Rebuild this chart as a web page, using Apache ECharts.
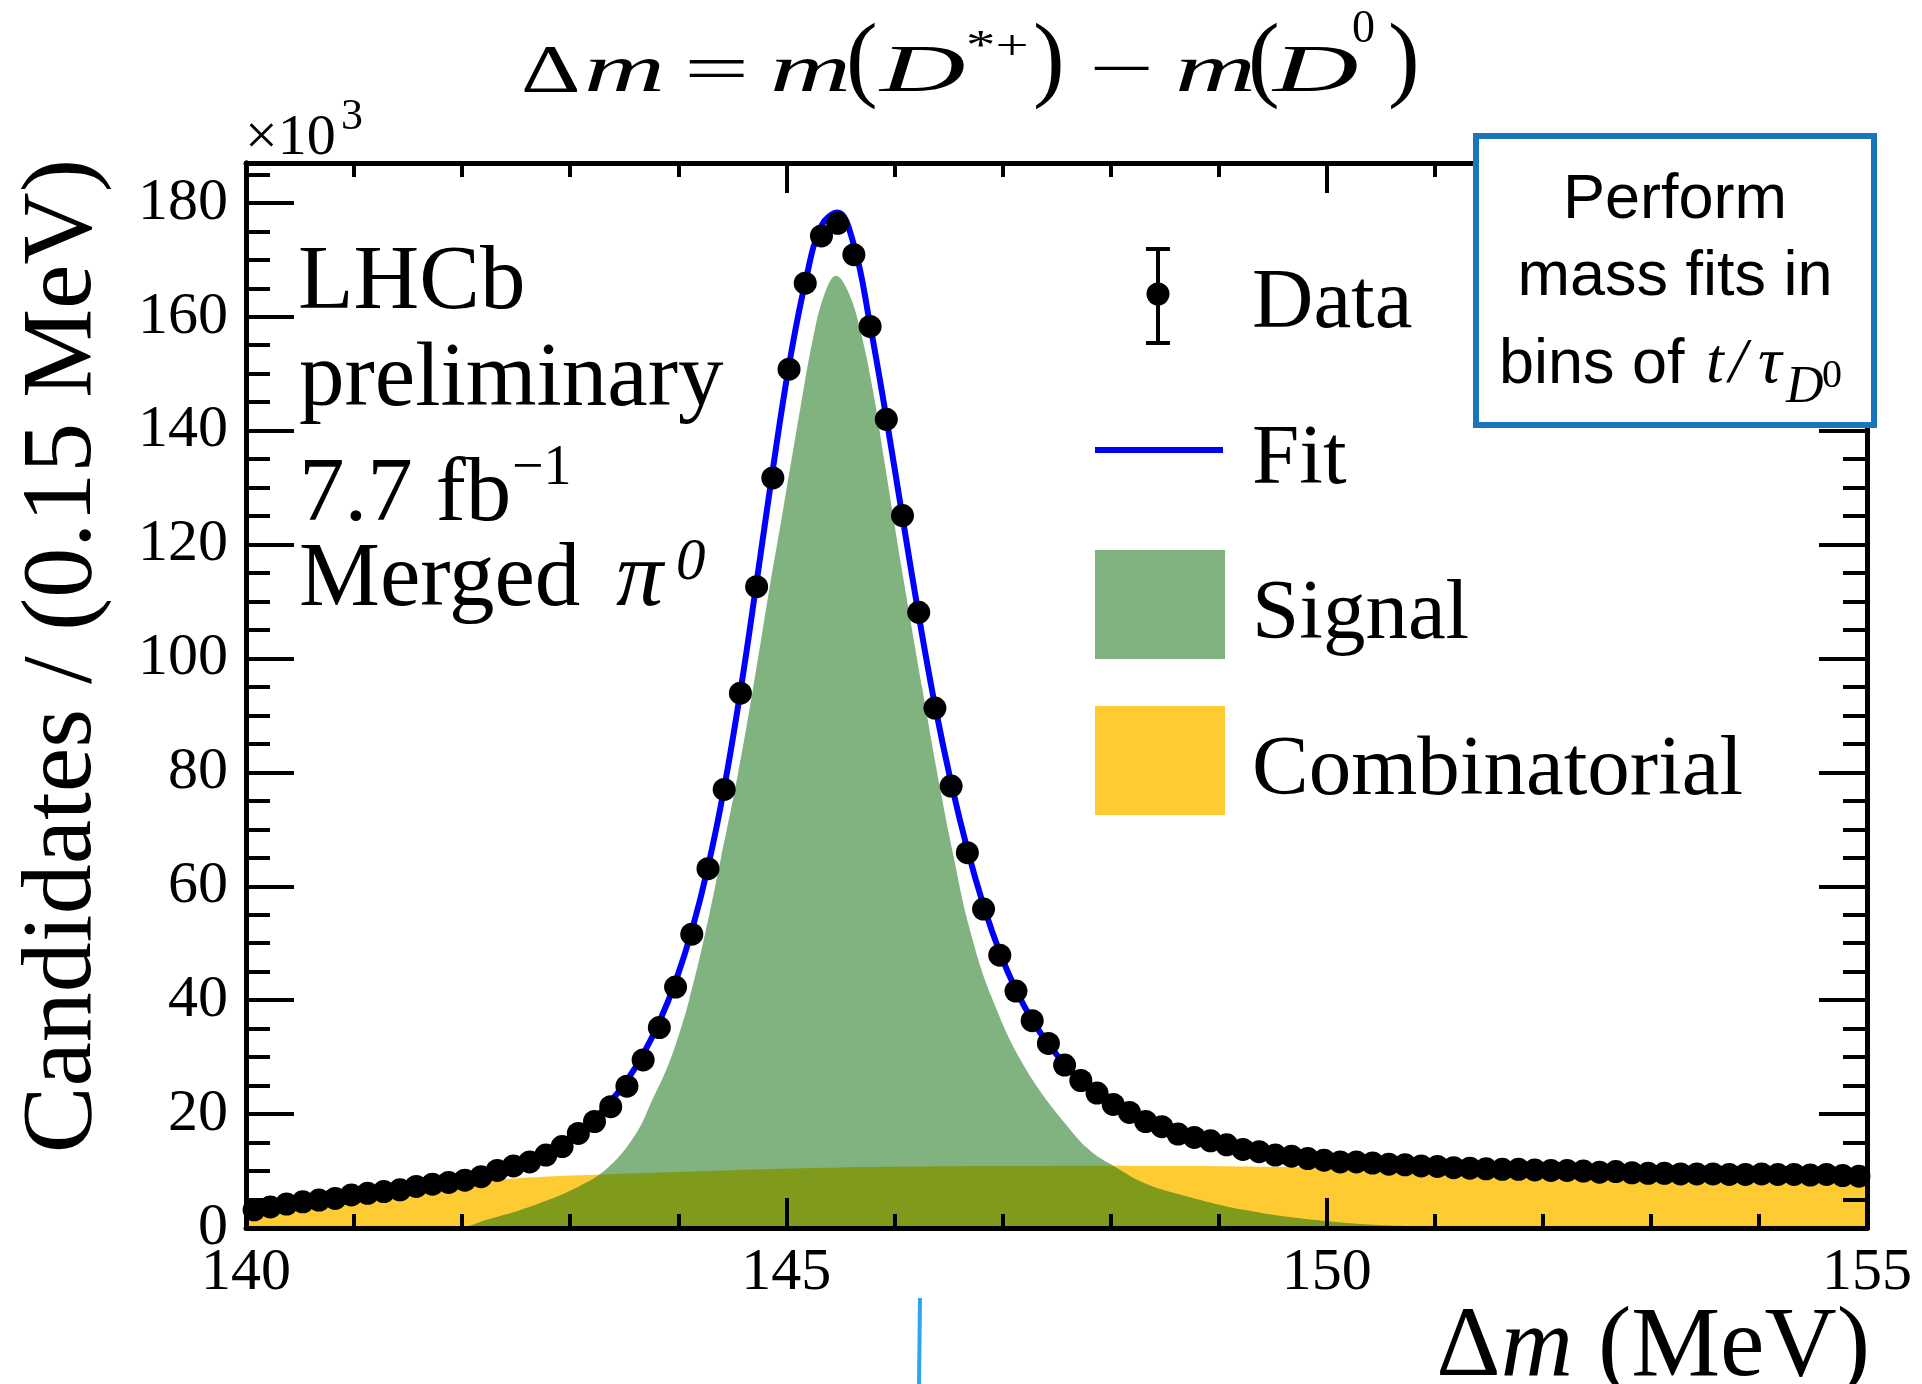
<!DOCTYPE html>
<html>
<head>
<meta charset="utf-8">
<title>Delta m fit</title>
<script src="https://cdn.jsdelivr.net/npm/echarts@6/dist/echarts.min.js"></script>
<style>
  html, body { margin: 0; padding: 0; background: #fff; }
  #chart { width: 1922px; height: 1384px; }
</style>
</head>
<body>
<div id="chart"></div>
<script>
// bin centres (0.15 MeV bins from 140 to 155)
const binCenters = [
  140.075,140.225,140.375,140.525,140.675,140.825,140.975,141.125,141.275,141.425,
  141.575,141.725,141.875,142.025,142.175,142.325,142.475,142.625,142.775,142.925,
  143.075,143.225,143.375,143.525,143.675,143.825,143.975,144.125,144.275,144.425,
  144.575,144.725,144.875,145.025,145.175,145.325,145.475,145.625,145.775,145.925,
  146.075,146.225,146.375,146.525,146.675,146.825,146.975,147.125,147.275,147.425,
  147.575,147.725,147.875,148.025,148.175,148.325,148.475,148.625,148.775,148.925,
  149.075,149.225,149.375,149.525,149.675,149.825,149.975,150.125,150.275,150.425,
  150.575,150.725,150.875,151.025,151.175,151.325,151.475,151.625,151.775,151.925,
  152.075,152.225,152.375,152.525,152.675,152.825,152.975,153.125,153.275,153.425,
  153.575,153.725,153.875,154.025,154.175,154.325,154.475,154.625,154.775,154.925
];
// candidates per bin, x10^3
const dataCounts = [
  3.2,3.7,4.2,4.6,4.9,5.2,5.8,6.1,6.4,6.7,
  7.3,7.7,8.0,8.4,9.0,10.1,10.9,11.6,12.8,14.3,
  16.6,18.7,21.3,24.9,29.5,35.2,42.3,51.6,63.1,77.0,
  93.9,112.6,131.7,150.8,165.9,174.2,176.4,170.9,158.3,142.0,
  125.1,108.1,91.3,77.6,65.9,56.0,47.9,41.6,36.4,32.4,
  28.6,25.9,23.7,21.7,20.3,18.7,17.8,16.5,15.9,15.3,
  14.6,13.8,13.4,12.8,12.6,12.2,11.9,11.6,11.6,11.4,
  11.2,11.1,10.9,10.8,10.6,10.5,10.4,10.3,10.3,10.2,
  10.1,10.1,10.0,9.8,9.9,9.7,9.6,9.6,9.5,9.5,
  9.5,9.4,9.4,9.5,9.4,9.4,9.3,9.4,9.2,9.1
];
// total fit, read at the same bin centres
const fitCounts = [
  3.1,3.6,4.1,4.5,4.9,5.3,5.7,6.1,6.5,6.9,
  7.3,7.7,8.1,8.6,9.2,10.0,10.9,11.9,13.2,14.8,
  16.8,19.2,22.2,25.9,30.5,36.2,43.3,52.2,63.4,77.3,
  94.2,113.4,133.2,151.5,166.0,176.0,178.3,172.6,158.6,142.3,
  124.8,107.6,91.8,78.2,66.5,56.6,48.4,41.8,36.5,32.3,
  28.8,26.0,23.7,21.8,20.2,18.8,17.6,16.6,15.7,15.0,
  14.4,13.9,13.4,13.0,12.6,12.3,12.0,11.8,11.6,11.4,
  11.2,11.1,10.9,10.8,10.7,10.5,10.4,10.3,10.2,10.1,
  10.1,10.0,9.9,9.9,9.8,9.7,9.7,9.6,9.6,9.5,
  9.5,9.4,9.4,9.4,9.3,9.3,9.3,9.2,9.2,9.1
];
// component curves
const curveX = [
  140.0,140.5,141.0,141.5,142.0,142.22,142.62,143.08,143.36,143.61,
  143.76,143.90,144.01,144.10,144.25,144.39,144.55,144.69,144.85,144.96,
  145.04,145.13,145.25,145.35,145.46,145.57,145.68,145.80,145.90,145.98,
  146.07,146.26,146.42,146.55,146.69,146.90,147.22,147.66,147.85,148.03,
  148.30,148.64,149.26,150.0,150.8,151.5,152.5,153.5,154.5,155.0
];
const signalCounts = [
  0,0,0,0,0.2,1.4,3.7,7.3,10.8,16.6,
  22.5,28.3,34.2,40.0,51.8,64.5,79.5,94.5,113.0,125.0,
  134.0,144.0,156.5,163.8,167.2,164.5,158.0,147.2,135.5,126.0,
  115.5,94.5,77.5,65.0,53.0,40.5,27.8,16.5,13.0,10.9,
  8.0,5.9,3.1,1.2,0.3,0,0,0,0,0
];
const combCounts = [
  3.0,4.3,5.6,6.8,8.0,8.3,8.85,9.25,9.45,9.6,
  9.7,9.8,9.85,9.9,10.0,10.1,10.2,10.25,10.35,10.4,
  10.45,10.5,10.55,10.6,10.6,10.65,10.7,10.7,10.75,10.75,
  10.8,10.8,10.85,10.85,10.9,10.9,10.9,10.95,10.95,10.95,
  10.9,10.9,10.8,10.6,10.35,10.1,9.8,9.4,9.0,8.8
];
const xTickLabels = [140, 145, 150, 155];
const yTickLabels = [0, 20, 40, 60, 80, 100, 120, 140, 160, 180];

const serif = '"Liberation Serif", "Times New Roman", serif';
const sans = '"Liberation Sans", Arial, Helvetica, sans-serif';
// signal is a half-transparent dark green laid over the combinatorial yellow
const GREEN_T = 'rgba(8,107,8,0.515)', GREEN = '#80b380', YELLOW = '#fecb32', BLUE = '#0000ff';

const chart = echarts.init(document.getElementById('chart'));

function xAx(pos, labels) {
  return {
    type: 'value', position: pos, min: 140, max: 155, interval: 5, z: 10,
    axisLine: { show: true, onZero: false, lineStyle: { color: '#000', width: 5 } },
    axisTick: { show: true, inside: true, length: 30, lineStyle: { color: '#000', width: 4 } },
    minorTick: { show: true, splitNumber: 5, length: 14, lineStyle: { color: '#000', width: 4 } },
    axisLabel: {
      show: labels, margin: 15, fontFamily: serif, fontSize: 60, color: '#000',
      formatter: v => xTickLabels.includes(v) ? String(v) : ''
    },
    splitLine: { show: false }, minorSplitLine: { show: false }
  };
}
function yAx(pos, interval, len, labels) {
  return {
    type: 'value', position: pos, min: 0, max: 187, interval: interval, z: 10,
    axisLine: { show: true, onZero: false, lineStyle: { color: '#000', width: 5 } },
    axisTick: { show: true, inside: true, length: len, lineStyle: { color: '#000', width: 4 } },
    axisLabel: {
      show: labels, margin: 18, fontFamily: serif, fontSize: 60, color: '#000',
      formatter: v => yTickLabels.includes(v) ? String(v) : ''
    },
    splitLine: { show: false }
  };
}

// plain text placed by its baseline
function txt(x, base, text, size, opts) {
  opts = opts || {};
  const family = opts.family || serif;
  return {
    type: 'text', x: x, y: base - 0.28 * size, z: opts.z || 100,
    scaleX: opts.scaleX || 1,
    rotation: opts.rotation || 0,
    style: {
      text: text,
      font: (opts.italic ? 'italic ' : '') + size + 'px ' + family,
      fill: '#000',
      align: opts.align || 'left', textAlign: opts.align || 'left',
      verticalAlign: 'middle', textVerticalAlign: 'middle'
    }
  };
}

const titleParts = [
  // text, x, size, italic, scaleX, baseline
  ['Δ', 521, 68, false, 1.36, 92],
  ['m', 584, 68, true, 1.65, 92],
  ['=', 684, 68, false, 1.7, 92],
  ['m', 770, 68, true, 1.65, 92],
  ['(', 846, 95, false, 1, 91],
  ['D', 880, 68, true, 1.74, 92],
  ['*+', 966, 42, false, 1.4, 60],
  [')', 1033, 95, false, 1, 91],
  ['−', 1089, 68, false, 1.7, 92],
  ['m', 1175, 68, true, 1.65, 92],
  ['(', 1248, 95, false, 1, 91],
  ['D', 1273, 68, true, 1.74, 92],
  ['0', 1352, 46, false, 1, 43],
  [')', 1388, 95, false, 1, 91]
];

const graphics = [];
titleParts.forEach(p => graphics.push(txt(p[1], p[5], p[0], p[2], { italic: p[3], scaleX: p[4] })));

// multiplier and axis titles
graphics.push(txt(245, 155, '×10', 58));
graphics.push(txt(341, 130, '3', 44));
graphics.push({
  type: 'text', x: 64, y: 159, rotation: Math.PI / 2, z: 100,
  style: {
    text: 'Candidates / (0.15 MeV)', font: '100px ' + serif, fill: '#000',
    align: 'right', textAlign: 'right', verticalAlign: 'middle', textVerticalAlign: 'middle'
  }
});
graphics.push({
  type: 'text', x: 1870, y: 1377 - 28, z: 100,
  style: {
    text: '{u|Δ}{i|m}{u| (MeV)}', fill: '#000',
    align: 'right', textAlign: 'right', verticalAlign: 'middle', textVerticalAlign: 'middle',
    rich: {
      u: { fontFamily: serif, fontSize: 100, fill: '#000' },
      i: { fontFamily: serif, fontSize: 100, fontStyle: 'italic', fill: '#000' }
    }
  }
});

// LHCb label block
graphics.push(txt(298, 310, 'LHCb', 91));
graphics.push(txt(299, 407, 'preliminary', 91));
graphics.push(txt(299, 522, '7.7 fb', 91));
graphics.push(txt(512, 485, '−1', 56));
graphics.push(txt(299, 607, 'Merged', 91));
graphics.push(txt(616, 607, 'π', 94, { italic: true }));
graphics.push(txt(676, 580, '0', 59, { italic: true }));

// legend
graphics.push({ type: 'line', z: 100, shape: { x1: 1158, y1: 249, x2: 1158, y2: 343 }, style: { stroke: '#000', lineWidth: 4 } });
graphics.push({ type: 'line', z: 100, shape: { x1: 1146, y1: 249, x2: 1170, y2: 249 }, style: { stroke: '#000', lineWidth: 4 } });
graphics.push({ type: 'line', z: 100, shape: { x1: 1146, y1: 343, x2: 1170, y2: 343 }, style: { stroke: '#000', lineWidth: 4 } });
graphics.push({ type: 'circle', z: 100, shape: { cx: 1158, cy: 294, r: 11.5 }, style: { fill: '#000' } });
graphics.push({ type: 'line', z: 100, shape: { x1: 1095, y1: 450, x2: 1223, y2: 450 }, style: { stroke: BLUE, lineWidth: 6 } });
graphics.push({ type: 'rect', z: 100, shape: { x: 1095, y: 550, width: 130, height: 109 }, style: { fill: GREEN } });
graphics.push({ type: 'rect', z: 100, shape: { x: 1095, y: 706, width: 130, height: 109 }, style: { fill: YELLOW } });
graphics.push(txt(1252, 328, 'Data', 85));
graphics.push(txt(1252, 484, 'Fit', 85));
graphics.push(txt(1252, 639, 'Signal', 85));
graphics.push(txt(1252, 795, 'Combinatorial', 85));

// blue note box
graphics.push({ type: 'rect', z: 110, shape: { x: 1476, y: 136, width: 398, height: 289 }, style: { fill: '#fff', stroke: '#1a75bb', lineWidth: 6 } });
graphics.push(txt(1675, 218, 'Perform', 63, { family: sans, align: 'center', z: 120 }));
graphics.push(txt(1675, 295, 'mass fits in', 63, { family: sans, align: 'center', z: 120 }));
graphics.push(txt(1499, 383, 'bins of', 63, { family: sans, z: 120 }));
graphics.push(txt(1706, 383, 't', 64, { italic: true, z: 120 }));
graphics.push(txt(1729, 383, '/', 64, { italic: true, z: 120 }));
graphics.push(txt(1758, 383, 'τ', 66, { italic: true, z: 120 }));
graphics.push(txt(1786, 403, 'D', 52, { italic: true, z: 120 }));
graphics.push(txt(1822, 388, '0', 40, { z: 120 }));

// pointer mark under the axis
graphics.push({ type: 'line', z: 100, shape: { x1: 920, y1: 1298, x2: 919, y2: 1384 }, style: { stroke: '#2aa7ee', lineWidth: 4 } });

chart.setOption({
  animation: false,
  backgroundColor: '#fff',
  grid: { left: 246, right: 55, top: 163, bottom: 156, containLabel: false, outerBoundsMode: 'none' },
  xAxis: [xAx('bottom', true), xAx('top', false)],
  yAxis: [yAx('left', 20, 48, true), yAx('left', 5, 24, false), yAx('right', 20, 48, false), yAx('right', 5, 24, false)],
  series: [
    {
      name: 'Combinatorial', type: 'line', z: 2, symbol: 'none', smooth: 0.4,
      data: curveX.map((x, i) => [x, combCounts[i]]),
      lineStyle: { width: 0, opacity: 0 }, areaStyle: { color: YELLOW, opacity: 1 }
    },
    {
      name: 'Signal', type: 'line', z: 3, symbol: 'none', smooth: 0.4,
      data: curveX.map((x, i) => [x, signalCounts[i]]),
      lineStyle: { width: 0, opacity: 0 }, areaStyle: { color: GREEN_T, opacity: 1 }
    },
    {
      name: 'Fit', type: 'line', z: 5, symbol: 'none', smooth: 0.4,
      data: binCenters.map((x, i) => [x, fitCounts[i]]),
      lineStyle: { color: BLUE, width: 6 }
    },
    {
      name: 'Data', type: 'scatter', z: 6, symbol: 'circle', symbolSize: 23,
      data: binCenters.map((x, i) => [x, dataCounts[i]]),
      itemStyle: { color: '#000', opacity: 1 }
    }
  ],
  graphic: { elements: graphics }
});
</script>
</body>
</html>
